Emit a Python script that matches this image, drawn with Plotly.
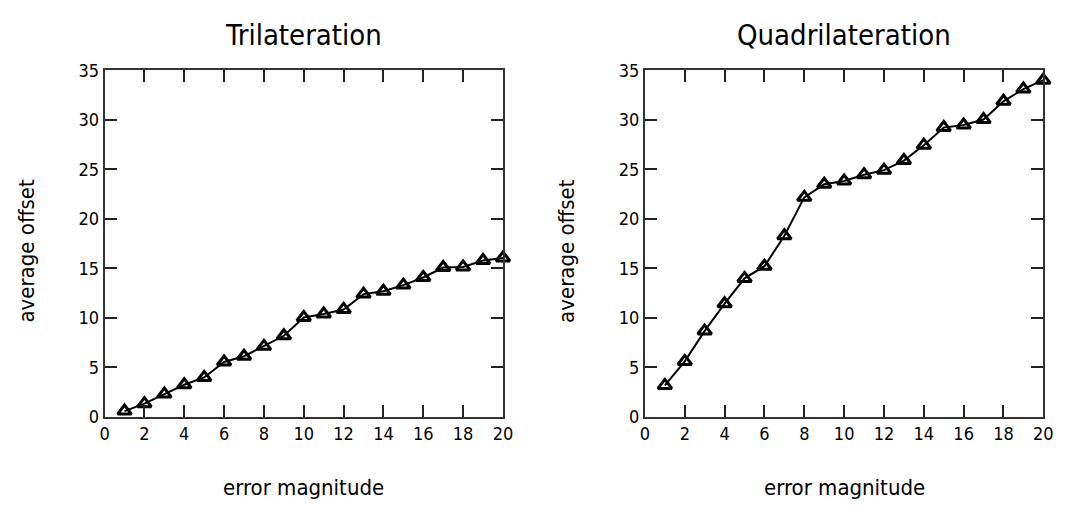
import plotly.graph_objects as go

error_magnitude = list(range(1, 21))
tri_offset = [0.58, 1.33, 2.3, 3.24, 3.98, 5.54, 6.12, 7.12, 8.19, 10.04,
              10.39, 10.85, 12.4, 12.69, 13.31, 14.08, 15.09, 15.15, 15.8, 16.06]
quad_offset = [3.17, 5.6, 8.68, 11.43, 13.99, 15.22, 18.29, 22.18, 23.5, 23.83,
               24.47, 24.93, 25.9, 27.45, 29.23, 29.49, 30.04, 31.89, 33.12, 34.02]
titles = ["Trilateration", "Quadrilateration"]
x_ticks = list(range(0, 21, 2))
y_ticks = list(range(0, 36, 5))

FONT = "DejaVu Sans Condensed, DejaVu Sans, sans-serif"
W, H = 1075, 517
fig = go.Figure()

panels = [(tri_offset, 101, 505, "x", "y"), (quad_offset, 649, 1053, "x2", "y2")]
top, bottom = 62, 423
for i, (vals, l, r, xa, ya) in enumerate(panels):
    fig.add_trace(go.Scatter(
        x=error_magnitude, y=vals, xaxis=xa, yaxis=ya, mode="lines+markers",
        line=dict(color="black", width=2),
        marker=dict(symbol="triangle-up-open", size=12, color="black",
                    line=dict(color="black", width=3)),
        cliponaxis=False, showlegend=False))
    dom_x = [l / W, r / W]
    axis_common = dict(showline=True, linecolor="#333", linewidth=2, mirror="ticks",
                       ticks="inside", ticklen=12, tickwidth=1.5, tickcolor="#222",
                       showgrid=False, zeroline=False,
                       tickfont=dict(family=FONT, size=18, color="black"))
    xkey = "xaxis" if i == 0 else "xaxis2"
    ykey = "yaxis" if i == 0 else "yaxis2"
    fig.update_layout(**{
        xkey: dict(domain=dom_x, range=[0, 20], tickvals=x_ticks, anchor=ya, **axis_common),
        ykey: dict(domain=[1 - bottom / H, 1 - top / H], range=[0, 35], tickvals=y_ticks,
                   anchor=xa, **axis_common),
    })
    cx = (l + r) / 2 / W
    fig.add_annotation(text=titles[i], x=cx, y=1 - 25 / H, xref="paper", yref="paper",
                       showarrow=False, font=dict(family=FONT, size=29, color="black"),
                       xanchor="center", yanchor="middle")
    fig.add_annotation(text="error magnitude", x=cx, y=1 - 497 / H, xref="paper", yref="paper",
                       showarrow=False, font=dict(family=FONT, size=22, color="black"),
                       xanchor="center", yanchor="middle")
    fig.add_annotation(text="average offset", x=(l - 79) / W, y=1 - 250 / H,
                       xref="paper", yref="paper", textangle=-90,
                       showarrow=False, font=dict(family=FONT, size=22, color="black"),
                       xanchor="center", yanchor="middle")

fig.update_layout(width=W, height=H, margin=dict(l=0, r=0, t=0, b=0),
                  paper_bgcolor="white", plot_bgcolor="white")
fig.write_html("out.html")
